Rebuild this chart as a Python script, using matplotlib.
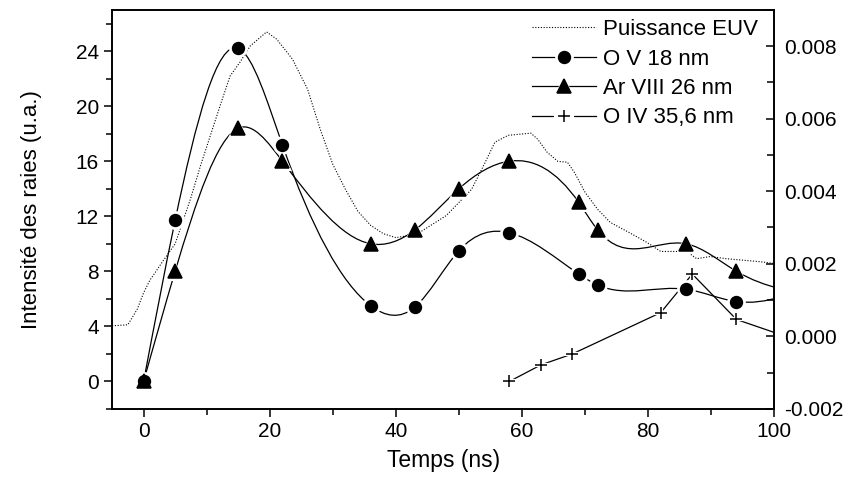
import numpy as np
import matplotlib
matplotlib.use('Agg')
import matplotlib.pyplot as plt
from matplotlib.path import Path
from matplotlib.patches import PathPatch
from matplotlib.lines import Line2D
from matplotlib.ticker import MultipleLocator, FormatStrFormatter

plt.rcParams['font.family'] = ['Liberation Sans', 'DejaVu Sans']
plt.rcParams['axes.unicode_minus'] = False

# Puissance EUV (right axis, x1e-3)
t_euv = [-5, -2.5, -1, 0, 1, 2, 3, 5, 7.4, 9, 12.1, 13.7, 15.3, 16.9, 19.5, 21.1,
         23.6, 26, 28, 30, 32, 34, 36, 38, 40, 42, 44, 46, 48, 50, 52, 54, 55.7,
         57.8, 61.4, 62.5, 64, 65.7, 67.2, 68.3, 70, 72, 74, 77, 79.8, 82, 84.6,
         85.7, 87.7, 89.8, 92.4, 97.6, 100]
p_euv = [0.29, 0.32, 0.75, 1.2, 1.55, 1.8, 2.06, 2.55, 3.77, 4.69, 6.34, 7.17, 7.56,
         8.00, 8.39, 8.19, 7.64, 6.81, 5.71, 4.74, 4.05, 3.44, 3.06, 2.83, 2.72, 2.78,
         2.89, 3.11, 3.33, 3.69, 4.05, 4.74, 5.35, 5.54, 5.60, 5.43, 5.07, 4.82, 4.80,
         4.52, 3.97, 3.50, 3.14, 2.86, 2.59, 2.34, 2.34, 2.39, 2.14, 2.20, 2.14, 2.06,
         2.01]

# O V 18 nm
t_ov = [0, 5, 15, 22, 36, 43, 50, 58, 69, 72, 86, 94, 108]
i_ov = [0, 11.7, 24.2, 17.2, 5.5, 5.4, 9.5, 10.8, 7.8, 7.0, 6.7, 5.8, 7.4]

# Ar VIII 26 nm
t_ar = [0, 5, 15, 22, 36, 43, 50, 58, 69, 72, 86, 94, 108]
i_ar = [0, 8.0, 18.4, 16.0, 10.0, 11.0, 14.0, 16.0, 13.0, 11.0, 10.0, 8.0, 6.2]

# O IV 35,6 nm
t_o4 = [58, 63, 68, 82, 87, 94, 108]
i_o4 = [0, 1.2, 2.0, 5.0, 7.8, 4.5, 2.3]


def spline_path(x, y):
    # natural cubic spline through the points, drawn as bezier segments
    x = np.asarray(x, float)
    y = np.asarray(y, float)
    n = len(x)
    h = np.diff(x)
    A = np.zeros((n, n))
    b = np.zeros(n)
    A[0, 0] = A[-1, -1] = 1
    for i in range(1, n - 1):
        A[i, i - 1] = h[i - 1]
        A[i, i] = 2 * (h[i - 1] + h[i])
        A[i, i + 1] = h[i]
        b[i] = 6 * ((y[i + 1] - y[i]) / h[i] - (y[i] - y[i - 1]) / h[i - 1])
    M = np.linalg.solve(A, b)
    verts = [(x[0], y[0])]
    codes = [Path.MOVETO]
    for i in range(n - 1):
        s = (y[i + 1] - y[i]) / h[i]
        d0 = s - h[i] * (2 * M[i] + M[i + 1]) / 6
        d1 = s + h[i] * (M[i] + 2 * M[i + 1]) / 6
        verts += [(x[i] + h[i] / 3, y[i] + d0 * h[i] / 3),
                  (x[i + 1] - h[i] / 3, y[i + 1] - d1 * h[i] / 3),
                  (x[i + 1], y[i + 1])]
        codes += [Path.CURVE4] * 3
    return Path(verts, codes)


fig = plt.figure(figsize=(8.49, 4.88), dpi=100)
ax = fig.add_axes([0.132, 0.162, 0.780, 0.818])
ax2 = ax.twinx()
ax.set_zorder(ax2.get_zorder() + 1)
ax.patch.set_visible(False)

lw = 0.9
dots = (0, (1, 1.5))
ax2.plot(t_euv, np.array(p_euv) * 1e-3, color='black', lw=0.8, ls=dots)

handles = []
for tt, vv, mk, ms, smooth in [(t_ov, i_ov, 'o', 8.5, True),
                               (t_ar, i_ar, '^', 9.5, True),
                               (t_o4, i_o4, '+', 9, False)]:
    if smooth:
        ax.add_patch(PathPatch(spline_path(tt, vv), fill=False, lw=lw,
                               edgecolor='black', zorder=2))
    else:
        ax.plot(tt, vv, color='black', lw=lw, zorder=2)
    halo, = ax.plot(tt, vv, ls='none', marker=mk, ms=ms + 5, color='white',
                    mew=3 if mk == '+' else 0, zorder=3)
    mark, = ax.plot(tt, vv, ls='none', marker=mk, ms=ms, color='black',
                    mew=1.1, zorder=4)
    handles.append((Line2D([], [], color='black', lw=lw), halo, mark))

ax.set_xlim(-5, 100)
ax.set_ylim(-2, 27)
ax2.set_ylim(-0.002, 0.009)

ax.xaxis.set_major_locator(MultipleLocator(20))
ax.xaxis.set_minor_locator(MultipleLocator(10))
ax.yaxis.set_major_locator(MultipleLocator(4))
ax.yaxis.set_minor_locator(MultipleLocator(2))
ax2.yaxis.set_major_locator(MultipleLocator(0.002))
ax2.yaxis.set_minor_locator(MultipleLocator(0.001))
ax2.yaxis.set_major_formatter(FormatStrFormatter('%.3f'))

ax.tick_params(which='both', direction='out', top=False, right=False,
               labelsize=15, width=1.1)
ax.tick_params(which='major', length=6)
ax.tick_params(which='minor', length=4)
ax2.tick_params(which='both', direction='in', labelsize=15, width=1.1, pad=7)
ax2.tick_params(which='major', length=6)
ax2.tick_params(which='minor', length=5)
for a in (ax, ax2):
    for sp in a.spines.values():
        sp.set_linewidth(1.2)

ax.set_xlabel('Temps (ns)', fontsize=16.5, labelpad=6)
ax.set_ylabel('Intensité des raies (u.a.)', fontsize=16, labelpad=24)

euv_handle = Line2D([], [], color='black', lw=0.8, ls=dots)
ax.legend([euv_handle] + handles,
          ['Puissance EUV', 'O V 18 nm', 'Ar VIII 26 nm', 'O IV 35,6 nm'],
          loc='upper right', bbox_to_anchor=(0.995, 1.01), frameon=False,
          fontsize=16, handlelength=2.9, handletextpad=0.3, labelspacing=0.38,
          borderaxespad=0.2)

fig.savefig('out.png', dpi=100)
